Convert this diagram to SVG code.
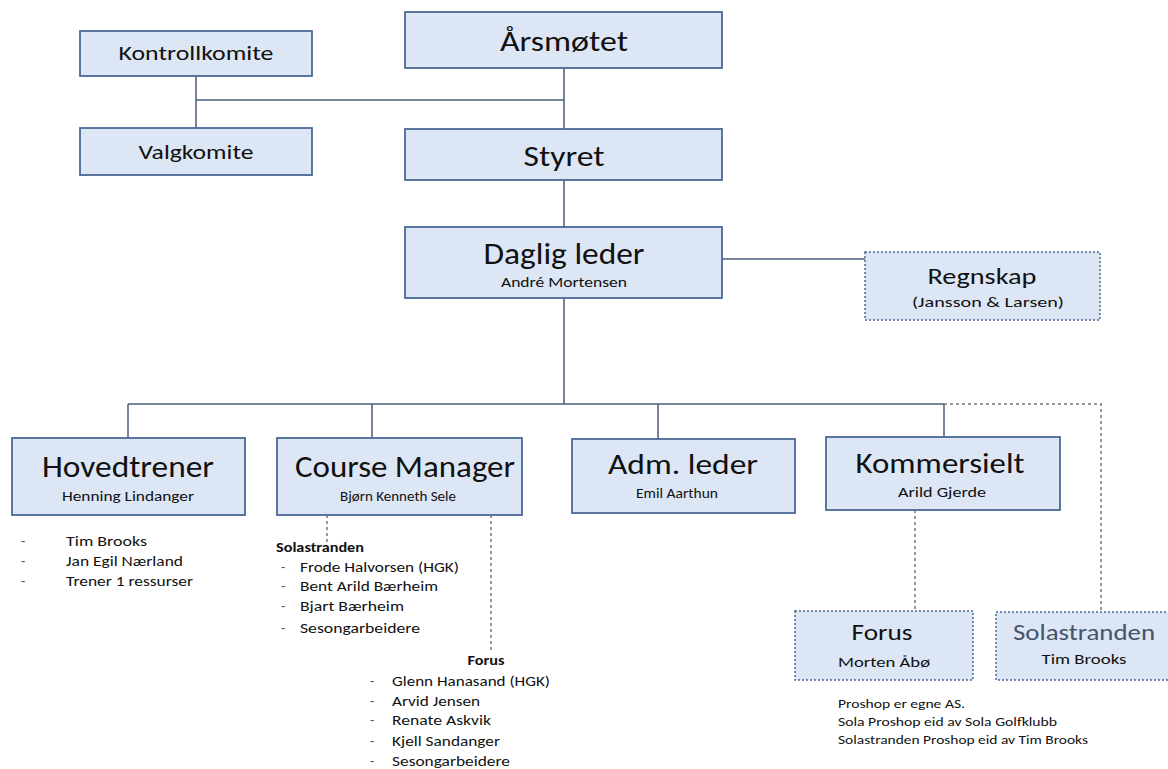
<svg xmlns="http://www.w3.org/2000/svg" width="1168" height="769" viewBox="0 0 1168 769">
<style>
  text { font-family: Carlito, Lato, "Liberation Sans", sans-serif; fill: #111; text-anchor: middle; }
  .box { fill: #dce6f4; stroke: #4a6896; stroke-width: 1.8; }
  .dbox { fill: #dce6f4; stroke: #4a6896; stroke-width: 1.5; stroke-dasharray: 2 2; }
  .ln { stroke: #4a5a78; stroke-width: 1.5; fill: none; }
  .dl { stroke: #777; stroke-width: 1.5; fill: none; stroke-dasharray: 3 3; }
  .lst { text-anchor: start; font-size: 15px; }
  .bul { text-anchor: start; font-size: 14px; fill: #555; }
  .hd { text-anchor: start; font-size: 14px; font-weight: bold; }
  .note { text-anchor: start; font-size: 12px; }
</style>
<rect width="1168" height="769" fill="#ffffff"/>
<g id="connectors">
  <line class="ln" x1="564" y1="68" x2="564" y2="129"/>
  <line class="ln" x1="196" y1="100" x2="564" y2="100"/>
  <line class="ln" x1="196" y1="76" x2="196" y2="128"/>
  <line class="ln" x1="564" y1="180" x2="564" y2="227"/>
  <line class="ln" x1="722" y1="259" x2="865" y2="259"/>
  <line class="ln" x1="564" y1="298" x2="564" y2="404"/>
  <line class="ln" x1="128" y1="404" x2="944" y2="404"/>
  <line class="ln" x1="128" y1="404" x2="128" y2="438"/>
  <line class="ln" x1="372" y1="404" x2="372" y2="438"/>
  <line class="ln" x1="658" y1="404" x2="658" y2="439"/>
  <line class="ln" x1="944" y1="404" x2="944" y2="437"/>
  <polyline class="dl" points="944,404 1101,404 1101,612"/>
  <line class="dl" x1="915" y1="510" x2="915" y2="611"/>
  <line class="dl" x1="327" y1="515" x2="327" y2="542"/>
  <line class="dl" x1="491" y1="515" x2="491" y2="650"/>
</g>
<g id="arsmotet">
  <rect class="box" x="405" y="12" width="317" height="56"/>
  <text x="564" y="51" font-size="29" textLength="128" lengthAdjust="spacingAndGlyphs">Årsmøtet</text>
</g>
<g id="kontrollkomite">
  <rect class="box" x="80" y="31" width="232" height="45"/>
  <text x="196" y="60" font-size="21" textLength="155" lengthAdjust="spacingAndGlyphs">Kontrollkomite</text>
</g>
<g id="valgkomite">
  <rect class="box" x="80" y="128" width="232" height="47"/>
  <text x="196" y="159" font-size="21" textLength="115" lengthAdjust="spacingAndGlyphs">Valgkomite</text>
</g>
<g id="styret">
  <rect class="box" x="405" y="129" width="317" height="51"/>
  <text x="564" y="166" font-size="28" textLength="81" lengthAdjust="spacingAndGlyphs">Styret</text>
</g>
<g id="daglig-leder">
  <rect class="box" x="405" y="227" width="317" height="71"/>
  <text x="564" y="264" font-size="30" textLength="161" lengthAdjust="spacingAndGlyphs">Daglig leder</text>
  <text x="564" y="287" font-size="14" textLength="126" lengthAdjust="spacingAndGlyphs">André Mortensen</text>
</g>
<g id="regnskap">
  <rect class="dbox" x="865" y="252" width="235" height="68"/>
  <text x="982" y="284" font-size="23" textLength="109" lengthAdjust="spacingAndGlyphs">Regnskap</text>
  <text x="988" y="307" font-size="15" textLength="152" lengthAdjust="spacingAndGlyphs">(Jansson &amp; Larsen)</text>
</g>
<g id="hovedtrener">
  <rect class="box" x="12" y="438" width="233" height="77"/>
  <text x="128" y="477" font-size="31" textLength="172" lengthAdjust="spacingAndGlyphs">Hovedtrener</text>
  <text x="128" y="501" font-size="15" textLength="132" lengthAdjust="spacingAndGlyphs">Henning Lindanger</text>
  <text class="bul" x="21" y="546">-</text>
  <text class="lst" x="66" y="546" textLength="81" lengthAdjust="spacingAndGlyphs">Tim Brooks</text>
  <text class="bul" x="21" y="566">-</text>
  <text class="lst" x="66" y="566" textLength="117" lengthAdjust="spacingAndGlyphs">Jan Egil Nærland</text>
  <text class="bul" x="21" y="586">-</text>
  <text class="lst" x="66" y="586" textLength="127" lengthAdjust="spacingAndGlyphs">Trener 1 ressurser</text>
</g>
<g id="course-manager">
  <rect class="box" x="277" y="438" width="245" height="77"/>
  <text x="405" y="477" font-size="31" textLength="220" lengthAdjust="spacingAndGlyphs">Course Manager</text>
  <text x="398" y="501" font-size="14" textLength="116" lengthAdjust="spacingAndGlyphs">Bjørn Kenneth Sele</text>
  <text class="hd" x="276" y="552" textLength="88" lengthAdjust="spacingAndGlyphs">Solastranden</text>
  <text class="bul" x="281" y="572">-</text>
  <text class="lst" x="300" y="572" textLength="159" lengthAdjust="spacingAndGlyphs">Frode Halvorsen (HGK)</text>
  <text class="bul" x="281" y="591">-</text>
  <text class="lst" x="300" y="591" textLength="138" lengthAdjust="spacingAndGlyphs">Bent Arild Bærheim</text>
  <text class="bul" x="281" y="611">-</text>
  <text class="lst" x="300" y="611" textLength="104" lengthAdjust="spacingAndGlyphs">Bjart Bærheim</text>
  <text class="bul" x="281" y="633">-</text>
  <text class="lst" x="300" y="633" textLength="120" lengthAdjust="spacingAndGlyphs">Sesongarbeidere</text>
  <text x="486" y="665" font-size="14" font-weight="bold" textLength="37" lengthAdjust="spacingAndGlyphs">Forus</text>
  <text class="bul" x="370" y="686">-</text>
  <text class="lst" x="392" y="686" textLength="158" lengthAdjust="spacingAndGlyphs">Glenn Hanasand (HGK)</text>
  <text class="bul" x="370" y="706">-</text>
  <text class="lst" x="392" y="706" textLength="88" lengthAdjust="spacingAndGlyphs">Arvid Jensen</text>
  <text class="bul" x="370" y="725">-</text>
  <text class="lst" x="392" y="725" textLength="99" lengthAdjust="spacingAndGlyphs">Renate Askvik</text>
  <text class="bul" x="370" y="746">-</text>
  <text class="lst" x="392" y="746" textLength="108" lengthAdjust="spacingAndGlyphs">Kjell Sandanger</text>
  <text class="bul" x="370" y="766">-</text>
  <text class="lst" x="392" y="766" textLength="118" lengthAdjust="spacingAndGlyphs">Sesongarbeidere</text>
</g>
<g id="adm-leder">
  <rect class="box" x="572" y="439" width="223" height="74"/>
  <text x="683" y="474" font-size="29" textLength="150" lengthAdjust="spacingAndGlyphs">Adm. leder</text>
  <text x="677" y="498" font-size="14" textLength="82" lengthAdjust="spacingAndGlyphs">Emil Aarthun</text>
</g>
<g id="kommersielt">
  <rect class="box" x="826" y="437" width="234" height="73"/>
  <text x="940" y="473" font-size="29" textLength="169" lengthAdjust="spacingAndGlyphs">Kommersielt</text>
  <text x="942" y="497" font-size="14" textLength="88" lengthAdjust="spacingAndGlyphs">Arild Gjerde</text>
</g>
<g id="forus">
  <rect class="dbox" x="795" y="611" width="178" height="69"/>
  <text x="882" y="640" font-size="23" textLength="61" lengthAdjust="spacingAndGlyphs">Forus</text>
  <text x="884" y="667" font-size="15" textLength="92" lengthAdjust="spacingAndGlyphs">Morten Åbø</text>
</g>
<g id="solastranden">
  <rect class="dbox" x="996" y="612" width="180" height="68"/>
  <text x="1084" y="640" font-size="23" style="fill:#44546a" textLength="142" lengthAdjust="spacingAndGlyphs">Solastranden</text>
  <text x="1084" y="664" font-size="14.5" textLength="85" lengthAdjust="spacingAndGlyphs">Tim Brooks</text>
</g>
<g id="notes">
  <text class="note" x="838" y="708" textLength="127" lengthAdjust="spacingAndGlyphs">Proshop er egne AS.</text>
  <text class="note" x="838" y="726" textLength="219" lengthAdjust="spacingAndGlyphs">Sola Proshop eid av Sola Golfklubb</text>
  <text class="note" x="838" y="744" textLength="250" lengthAdjust="spacingAndGlyphs">Solastranden Proshop eid av Tim Brooks</text>
</g>
</svg>
